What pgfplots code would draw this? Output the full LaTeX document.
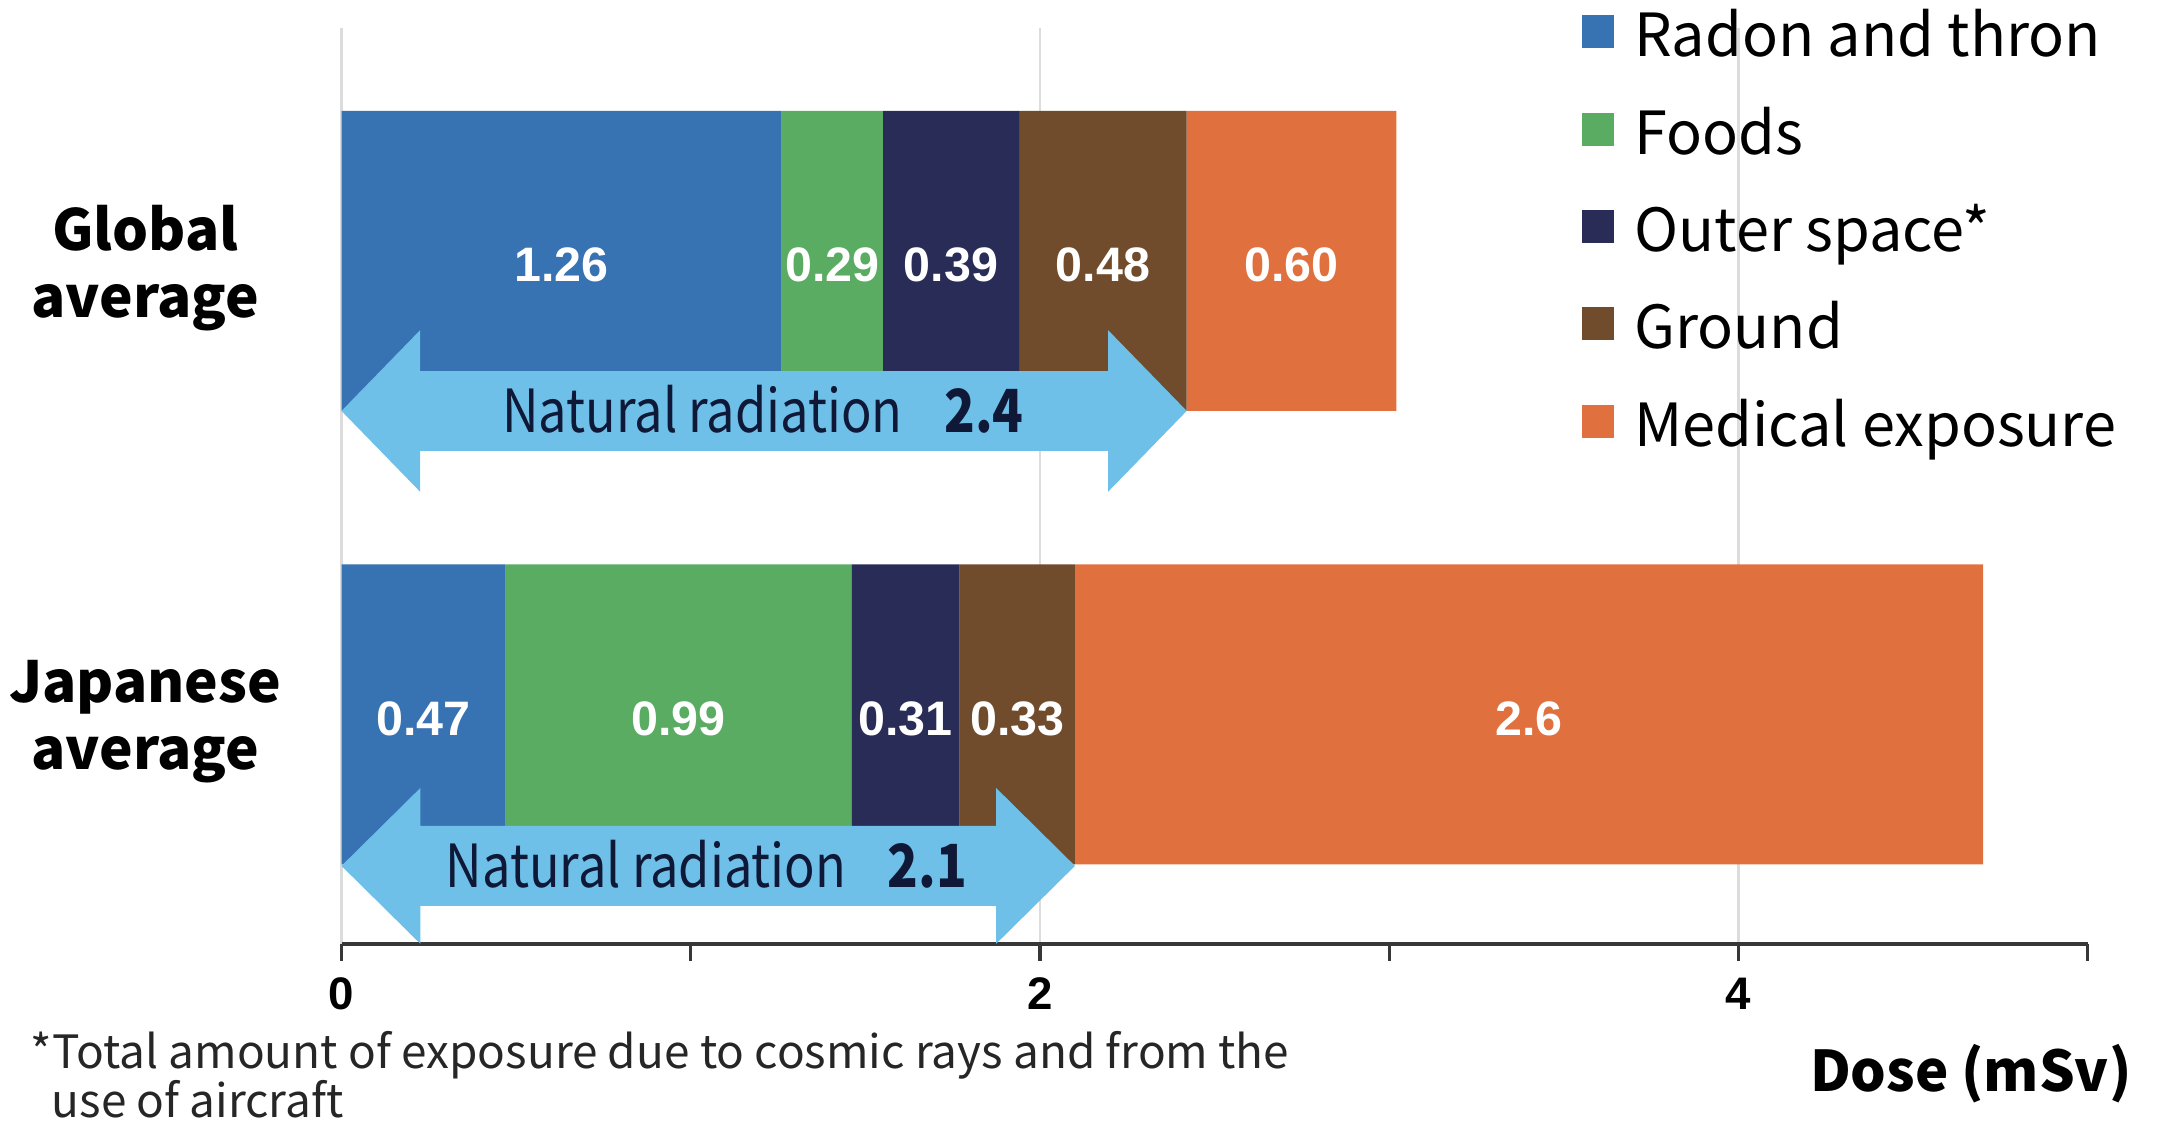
\documentclass[border=0pt]{standalone}
\usepackage{pgfplots}
\pgfplotsset{compat=1.18}
\usepackage{fontspec}
\setmainfont{Noto Sans CJK JP}
\newfontfamily\condfont{Noto Sans CJK JP}[FakeStretch=0.85]
\newfontfamily\numfont{Liberation Sans}
\definecolor{cRadon}{RGB}{55,114,178}
\definecolor{cFoods}{RGB}{90,172,98}
\definecolor{cSpace}{RGB}{42,44,88}
\definecolor{cGround}{RGB}{112,76,44}
\definecolor{cMedical}{RGB}{224,113,62}
\definecolor{cArrow}{RGB}{110,192,232}
\definecolor{cArrowText}{RGB}{15,25,55}
\definecolor{cGrid}{RGB}{220,220,220}
\definecolor{cAxis}{RGB}{55,55,55}
\begin{document}
\begin{tikzpicture}
\useasboundingbox (-123.5pt,-68.5pt) rectangle (660.5pt,341.5pt);
\pgfplotsset{base/.style={at={(0,0)}, anchor=south west, scale only axis,
  width=631.5pt, height=331.5pt, xmin=0, xmax=5, ymin=-0.507, ymax=1.514}}
\begin{axis}[base, xbar stacked, bar width=108.5pt,
  axis x line=bottom, axis y line=left,
  y axis line style={draw=none},
  x axis line style={-, cAxis, line width=1.4pt},
  xtick={0,2,4}, minor xtick={1,3,5}, tick align=outside,
  major tick length=6pt, minor tick length=6pt,
  xtick style={cAxis, line width=1.2pt},
  xmajorgrids, major x grid style={cGrid, line width=0.9pt},
  ytick={0,1}, yticklabels={{Japanese\\average},{Global\\average}},
  ytick style={draw=none},
  yticklabel style={align=center, anchor=center, xshift=-65pt, yshift=-2.5pt, inner sep=0pt,
    font=\fontsize{20.5}{24.25}\selectfont\bfseries},
  xticklabel style={font=\numfont\bfseries\fontsize{16.5}{16.5}\selectfont, yshift=-2.5pt},
  /pgf/number format/assume math mode=true,
  xlabel={Dose (mSv)},
  xlabel style={at={(rel axis cs:1,0)}, anchor=base east, inner sep=0pt,
    xshift=16pt, yshift=-53.2pt, font=\bfseries\fontsize{20.3}{20.3}\selectfont},
  legend cell align=left,
  legend style={at={(rel axis cs:0.7102,1)}, anchor=north west, yshift=5pt,
    draw=none, fill=none, inner sep=0pt, outer sep=0pt,
    row sep=15.2pt, column sep=7.5pt,
    font=\fontsize{21.5}{21.5}\selectfont,
    nodes={inner sep=0pt, text height=15.5pt, text depth=4.5pt}},
  legend image code/.code={\draw[#1, draw=none] (0pt,-2.5pt) rectangle (11.5pt,9.5pt);},
]
\addplot[fill=cRadon, draw=none] coordinates {(1.26,1) (0.47,0)};
\addlegendentry{Radon and thron}
\addplot[fill=cFoods, draw=none] coordinates {(0.29,1) (0.99,0)};
\addlegendentry{Foods}
\addplot[fill=cSpace, draw=none] coordinates {(0.39,1) (0.31,0)};
\addlegendentry{Outer space*}
\addplot[fill=cGround, draw=none] coordinates {(0.48,1) (0.33,0)};
\addlegendentry{Ground}
\addplot[fill=cMedical, draw=none] coordinates {(0.60,1) (2.6,0)};
\addlegendentry{Medical exposure}
\end{axis}
\begin{axis}[base, hide axis]
\addplot[fill=cArrow, draw=none] coordinates {(0,0.669) (0.225,0.847) (0.225,0.757) (2.195,0.757) (2.195,0.847) (2.42,0.669) (2.195,0.491) (2.195,0.581) (0.225,0.581) (0.225,0.491)} --cycle;
\addplot[fill=cArrow, draw=none] coordinates {(0,-0.334) (0.226,-0.162) (0.226,-0.246) (1.874,-0.246) (1.874,-0.162) (2.10,-0.334) (1.874,-0.506) (1.874,-0.422) (0.226,-0.422) (0.226,-0.506)} --cycle;
\addplot[draw=none, mark=none, nodes near coords, point meta=explicit symbolic,
  nodes near coords style={anchor=center, text=white, inner sep=0pt,
    font=\numfont\bfseries\fontsize{17.5}{17.5}\selectfont}]
  coordinates {(0.63,0.99)[1.26] (1.405,0.99)[0.29] (1.745,0.99)[0.39] (2.18,0.99)[0.48] (2.72,0.99)[0.60]
  (0.235,-0.01)[0.47] (0.965,-0.01)[0.99] (1.615,-0.01)[0.31] (1.935,-0.01)[0.33] (3.40,-0.01)[2.6]};
\node[anchor=west, inner sep=0pt, text=cArrowText, font=\condfont\fontsize{21.5}{21.5}\selectfont]
  at (axis cs:0.459,0.672) {Natural radiation\hspace{0.7em}\textbf{2.4}};
\node[anchor=west, inner sep=0pt, text=cArrowText, font=\condfont\fontsize{21.5}{21.5}\selectfont]
  at (axis cs:0.297,-0.331) {Natural radiation\hspace{0.7em}\textbf{2.1}};
\end{axis}
\node[anchor=base west, inner sep=0pt, text=black!85, font=\fontsize{16.6}{16.6}\selectfont]
  at (-112.5pt,-44.75pt) {*Total amount of exposure due to cosmic rays and from the};
\node[anchor=base west, inner sep=0pt, text=black!85, font=\fontsize{16.6}{16.6}\selectfont]
  at (-105pt,-62.5pt) {use of aircraft};
\end{tikzpicture}
\end{document}
